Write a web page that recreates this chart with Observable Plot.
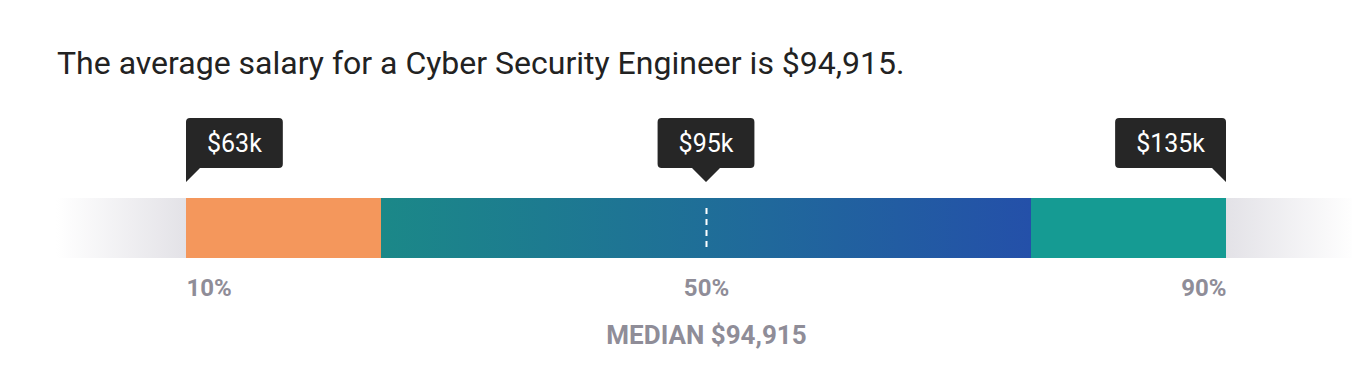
<!DOCTYPE html>
<html>
<head>
<meta charset="utf-8">
<script src="https://cdn.jsdelivr.net/npm/d3@7"></script>
<script src="https://cdn.jsdelivr.net/npm/@observablehq/plot@0.6"></script>
<style>
  html, body { margin: 0; padding: 0; background: #fff; }
  body { font-family: Roboto, "Noto Sans", sans-serif; width: 1352px; height: 366px; overflow: hidden; }
  #title { box-sizing: border-box; height: 100px; padding: 47px 0 0 57px; font-size: 32px; line-height: 32px; color: #222; white-space: nowrap; }
  #chart svg { display: block; }
</style>
</head>
<body>
<div id="title"></div>
<div id="chart"></div>
<script>
// ---- data ----
const titleText = "The average salary for a Cyber Security Engineer is $94,915.";
const percentiles = [10, 50, 90];
const percentileLabels = ["10%", "50%", "90%"];
const salaryLabels = ["$63k", "$95k", "$135k"];
const segmentStarts = [0, 10, 25, 75, 90];
const segmentEnds = [10, 25, 75, 90, 100];
const segmentNames = ["fadeLeft", "low", "middle", "high", "fadeRight"];
const medianPercentile = 50;
const medianLabel = "MEDIAN $94,915";

// ---- styles ----
const segmentFills = {
  fadeLeft: "url(#fadeLeftGrad)",
  low: "#f4975c",
  middle: "url(#middleGrad)",
  high: "#159b93",
  fadeRight: "url(#fadeRightGrad)"
};
const labelColor = "#8f8d98";
const calloutFill = "#262626";
const calloutFontSize = 25;

document.getElementById("title").textContent = titleText;

const segments = segmentNames.map((name, i) => ({
  name, start: segmentStarts[i], end: segmentEnds[i], row: "bar"
}));
const pctRows = percentiles.map((p, i) => ({
  p, label: percentileLabels[i], salary: salaryLabels[i], row: "bar",
  anchor: i === 0 ? "start" : i === percentiles.length - 1 ? "end" : "middle"
}));
const medianRows = [{p: medianPercentile, label: medianLabel, row: "bar"}];

function gradientDefs() {
  const svg = d3.create("svg:g");
  const defs = svg.append("defs");
  const mk = (id, stops) => {
    const g = defs.append("linearGradient").attr("id", id)
      .attr("x1", "0").attr("x2", "1").attr("y1", "0").attr("y2", "0");
    stops.forEach(([o, c]) => g.append("stop").attr("offset", o).attr("stop-color", c));
  };
  mk("fadeLeftGrad", [[0, "#ffffff"], [1, "#e3e2e7"]]);
  mk("middleGrad", [[0, "#1b8888"], [0.5, "#1f6e98"], [1, "#2450a9"]]);
  mk("fadeRightGrad", [[0, "#e3e2e7"], [1, "#ffffff"]]);
  return svg.node();
}

function calloutMark(index, scales) {
  const g = d3.create("svg:g");
  const ctx = document.createElement("canvas").getContext("2d");
  ctx.font = `${calloutFontSize}px Roboto`;
  const barTop = scales.y("bar");
  const B = barTop - 30, T = B - 50, Y = B + 14, r = 4, pw = 14, pad = 21;
  pctRows.forEach(d => {
    const x = scales.x(d.p);
    const w = ctx.measureText(d.salary).width + 2 * pad;
    let L, R, path;
    if (d.anchor === "start") {
      L = x; R = x + w;
      path = `M${L},${T + r}Q${L},${T} ${L + r},${T}H${R - r}Q${R},${T} ${R},${T + r}V${B - r}Q${R},${B} ${R - r},${B}H${L + pw}L${L},${Y}Z`;
    } else if (d.anchor === "end") {
      L = x - w; R = x;
      path = `M${L},${T + r}Q${L},${T} ${L + r},${T}H${R - r}Q${R},${T} ${R},${T + r}V${Y}L${R - pw},${B}H${L + r}Q${L},${B} ${L},${B - r}Z`;
    } else {
      L = x - w / 2; R = x + w / 2;
      path = `M${L},${T + r}Q${L},${T} ${L + r},${T}H${R - r}Q${R},${T} ${R},${T + r}V${B - r}Q${R},${B} ${R - r},${B}H${x + pw}L${x},${Y}L${x - pw},${B}H${L + r}Q${L},${B} ${L},${B - r}Z`;
    }
    g.append("path").attr("d", path).attr("fill", calloutFill);
    g.append("text")
      .attr("x", (L + R) / 2)
      .attr("y", (T + B) / 2 + 0.355 * calloutFontSize)
      .attr("text-anchor", "middle")
      .attr("fill", "#ffffff")
      .attr("font-family", "Roboto")
      .attr("font-size", calloutFontSize)
      .text(d.salary);
  });
  return g.node();
}

const pctText = anchor => Plot.text(pctRows.filter(d => d.anchor === anchor), {
  x: "p", y: "row", text: "label", textAnchor: anchor, lineAnchor: "bottom", dy: 67,
  fill: labelColor, fontWeight: "bold", fontSize: 24
});

const chart = Plot.plot({
  width: 1352,
  height: 266,
  margin: 0,
  style: {fontFamily: "Roboto", background: "transparent", overflow: "visible"},
  x: {domain: [0, 100], range: [56, 1356], axis: null},
  y: {type: "band", domain: ["bar"], range: [98, 158], padding: 0, axis: null},
  color: {type: "identity"},
  marks: [
    gradientDefs,
    Plot.barX(segments, {x1: "start", x2: "end", y: "row", fill: d => segmentFills[d.name]}),
    Plot.tickX(medianRows, {x: "p", y: "row", stroke: "#ffffff", strokeWidth: 2, strokeDasharray: "6,5", insetTop: 10, insetBottom: 10}),
    calloutMark,
    pctText("start"),
    pctText("middle"),
    pctText("end"),
    Plot.text(medianRows, {x: "p", y: "row", text: "label", textAnchor: "middle", lineAnchor: "bottom", dy: 115,
      fill: labelColor, fontWeight: "bold", fontSize: 26})
  ]
});
document.getElementById("chart").appendChild(chart);
</script>
</body>
</html>
